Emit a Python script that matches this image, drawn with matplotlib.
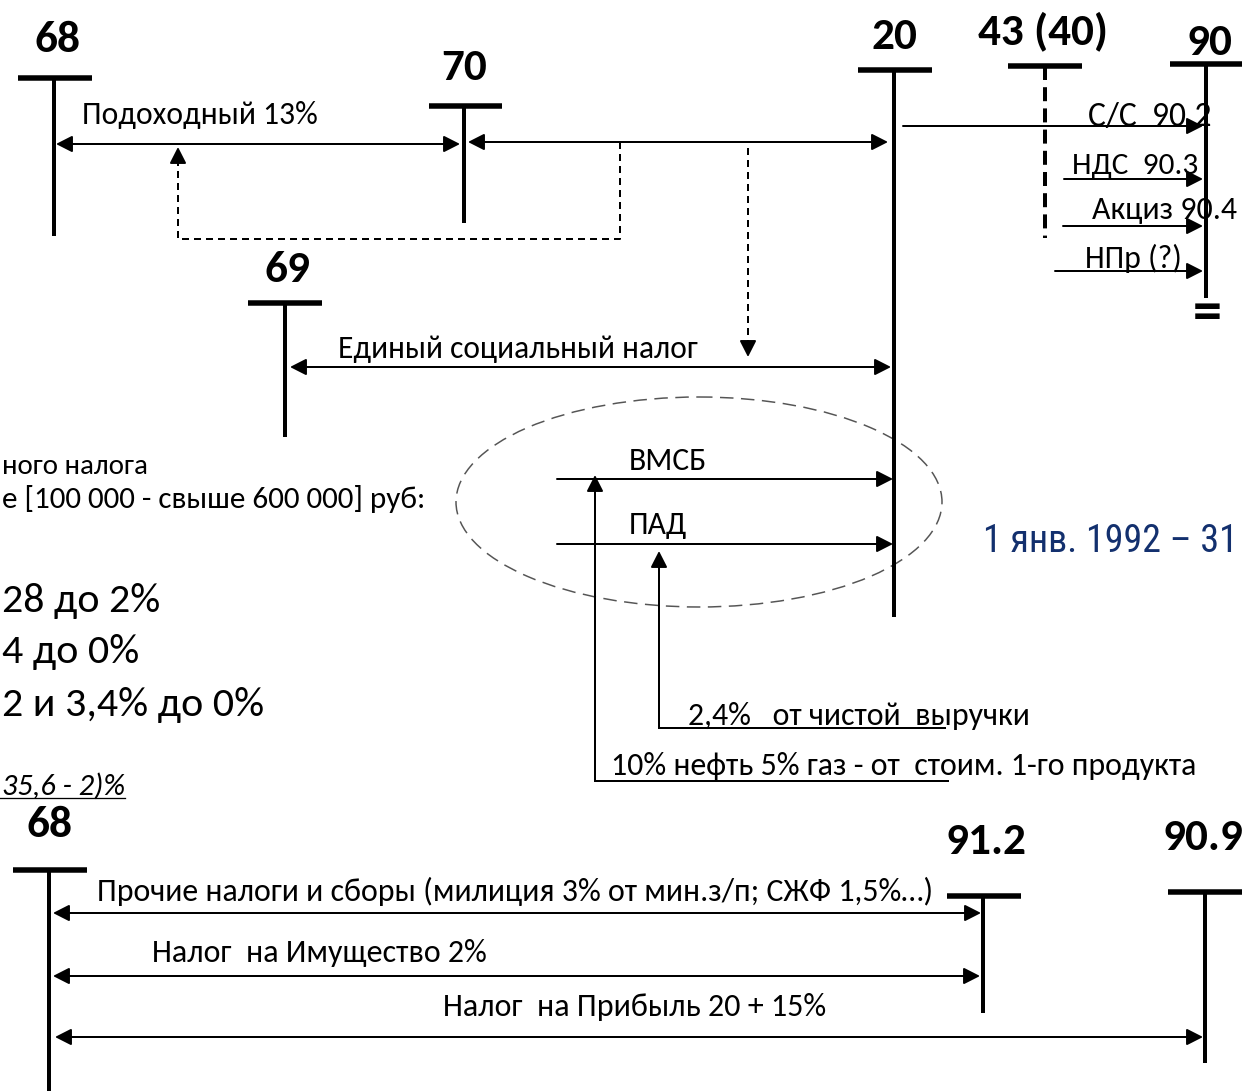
import matplotlib
matplotlib.use('Agg')
import matplotlib.pyplot as plt
from matplotlib.patches import Ellipse
from matplotlib import font_manager as fm

# ---------------- data (texts) ----------------
account_labels = ['68', '70', '20', '43 (40)', '90', '69', '68', '91.2', '90.9']
top_flow_labels = ['Подоходный 13%', 'Единый социальный налог']
sale_labels = ['С/С  90.2', 'НДС  90.3', 'Акциз 90.4', 'НПр (?)']
oil_labels = ['ВМСБ', 'ПАД']
oil_notes = ['2,4%   от чистой  выручки', '10% нефть 5% газ - от  стоим. 1-го продукта']
bottom_flow_labels = ['Прочие налоги и сборы (милиция 3% от мин.з/п; СЖФ 1,5%…)',
                      'Налог  на Имущество 2%', 'Налог  на Прибыль 20 + 15%']
left_notes = ['ного налога', 'е [100 000 - свыше 600 000] руб:']
rate_notes = ['28 до 2%', '4 до 0%', '2 и 3,4% до 0%']
formula_note = '35,6 - 2)%'
period_label = '1 янв. 1992 – 31'
equals_label = '='

# ---------------- fonts ----------------
names = {f.name for f in fm.fontManager.ttflist}
def pick(*c):
    return [n for n in c if n in names] + ['DejaVu Sans']
SANS = pick('Carlito', 'Open Sans', 'Noto Sans')
NARROW_KW = {}
narrow_names = [n for n in ('Liberation Sans Narrow', 'Arial Narrow', 'Roboto Condensed',
                            'Open Sans Condensed', 'Noto Sans Condensed') if n in names]
if narrow_names:
    NARROW = narrow_names + ['DejaVu Sans']
else:
    cond = [f for f in fm.fontManager.ttflist
            if f.name == 'DejaVu Sans' and 'ondensed' in f.fname and f.weight in (400, 'normal')
            and f.style == 'normal']
    if cond:
        NARROW = ['DejaVu Sans']
        NARROW_KW = {'fontstretch': 'condensed'}
    else:
        NARROW = pick('Roboto', 'Noto Sans')

# ---------------- canvas ----------------
W, H = 1242, 1091
fig = plt.figure(figsize=(W / 100, H / 100), dpi=100)
ax = fig.add_axes([0, 0, 1, 1])
ax.set_xlim(0, W)
ax.set_ylim(H, 0)
ax.axis('off')
fig.canvas.draw()
R = fig.canvas.get_renderer()

def measure(s, family=SANS, **kw):
    t = ax.text(0, 0, s, fontsize=20, family=family, **kw)
    w = t.get_window_extent(renderer=R).width
    t.remove()
    return w

def fit_text(x, y, s, width, ha='left', family=SANS, **kw):
    mk = {k: v for k, v in kw.items() if k in ('fontweight', 'style', 'fontstretch')}
    fs = 20 * width / measure(s, family=family, **mk)
    ax.text(x, y + 3, s, ha=ha, va='center', fontsize=fs, family=family, **kw)
    return fs

PX = 72 / 100  # points per pixel
LW_ACC = 4 * PX
LW_BAR = 5.5 * PX
LW_ARR = 2 * PX
HEAD = '-|>,head_length=0.55,head_width=0.28'
DHEAD = '<|-|>,head_length=0.55,head_width=0.28'

def arrow(p0, p1, style=HEAD):
    ax.annotate('', xy=p1, xytext=p0,
                arrowprops=dict(arrowstyle=style, lw=LW_ARR, color='k',
                                mutation_scale=18, shrinkA=0, shrinkB=0))

# ---------------- T accounts ----------------
# (x_vert, y_bar, bar_x0, bar_x1, y_end, label_cx, label_cy, dashed)
acc_geom = [
    (54, 78, 18, 92, 236, 57, 40, False),
    (464, 106, 429, 502, 223, 464, 68, False),
    (894, 70, 858, 932, 617, 894, 37, False),
    (1045, 66, 1008, 1082, 238, 1043, 31, True),
    (1206, 64, 1170, 1250, 298, 1209, 43, False),
    (285, 303, 248, 322, 437, 287, 270, False),
    (49, 870, 13, 87, 1091, 49, 825, False),
    (983, 896, 947, 1021, 1013, 986, 842, False),
    (1205, 892, 1168, 1250, 1063, 1203, 838, False),
]
lab_fs = 20 * 46 / measure('68', fontweight='bold')
for lab, (xv, yb, x0, x1, ye, lx, ly, dashed) in zip(account_labels, acc_geom):
    ax.plot([x0, x1], [yb, yb], color='k', lw=LW_BAR, solid_capstyle='butt')
    if dashed:
        ax.plot([xv, xv], [yb, ye], color='k', lw=LW_ACC,
                linestyle=(0, (3.5, 1.8)), dash_capstyle='butt')
    else:
        ax.plot([xv, xv], [yb, ye], color='k', lw=LW_ACC, solid_capstyle='butt')
    ax.text(lx, ly, lab, ha='center', va='center', fontsize=lab_fs,
            fontweight='bold', family=SANS)

fit_text(1207, 311, equals_label, 29, ha='center', fontweight='bold')

# ---------------- top flows ----------------
arrow((56, 144), (460, 144), DHEAD)
arrow((468, 142), (888, 142), DHEAD)
arrow((290, 367), (891, 367), DHEAD)
fit_text(82, 112, top_flow_labels[0], 235)
fit_text(338, 346, top_flow_labels[1], 360)

# dashed links
DASH = (0, (3.5, 2.5))
ax.plot([620, 620, 178, 178], [142, 239, 239, 162], color='k', lw=LW_ARR, linestyle=DASH)
arrow((178, 162), (178, 147))
ax.plot([748, 748], [148, 343], color='k', lw=LW_ARR, linestyle=DASH)
arrow((748, 342), (748, 357))

# sales flows to 90
sale_arrows = [(903, 126), (1064, 179), (1063, 226), (1055, 271)]
sale_text = [(1088, 114, 124), (1072, 163, 126), (1092, 207, 145), (1085, 255, 97)]
for lab, (xs, ya), (tx, ty, tw) in zip(sale_labels, sale_arrows, sale_text):
    fit_text(tx, ty, lab, tw)
    arrow((xs, ya), (1203, ya))

# ---------------- oil block ----------------
ax.add_patch(Ellipse((699, 502), 486, 210, fill=False, edgecolor='#555555',
                     lw=1.5 * PX, linestyle=(0, (9, 5))))
for lab, ya, ty, tw in zip(oil_labels, [479, 544], [458, 522], [78, 58]):
    arrow((557, ya), (893, ya))
    fit_text(629, ty, lab, tw)

ax.plot([948, 595], [781, 781], color='k', lw=LW_ARR)
arrow((595, 781), (595, 475))
ax.plot([945, 659], [728, 728], color='k', lw=LW_ARR)
arrow((659, 728), (659, 551))
fit_text(688, 713, oil_notes[0], 342)
fit_text(611, 763, oil_notes[1], 584)

fit_text(983, 539, period_label, 254, family=NARROW, color='#13306e', **NARROW_KW)

# ---------------- left notes ----------------
fit_text(2, 463, left_notes[0], 146)
fit_text(2, 496, left_notes[1], 426)
big_fs = 20 * 261 / measure(rate_notes[2])
for s, y in zip(rate_notes, [598, 649, 702]):
    ax.text(2, y + 3, s, ha='left', va='center', fontsize=big_fs, family=SANS)
fit_text(2, 783, formula_note, 123, style='italic')
ax.plot([0, 125], [798, 798], color='k', lw=1.3 * PX)

# ---------------- bottom flows ----------------
arrow((53, 913), (981, 913), DHEAD)
arrow((53, 976), (980, 976), DHEAD)
arrow((55, 1037), (1203, 1037), DHEAD)
fit_text(97, 888, bottom_flow_labels[0], 836)
fit_text(152, 950, bottom_flow_labels[1], 334)
fit_text(443, 1004, bottom_flow_labels[2], 383)

fig.savefig('out.png', dpi=100, facecolor='white')
